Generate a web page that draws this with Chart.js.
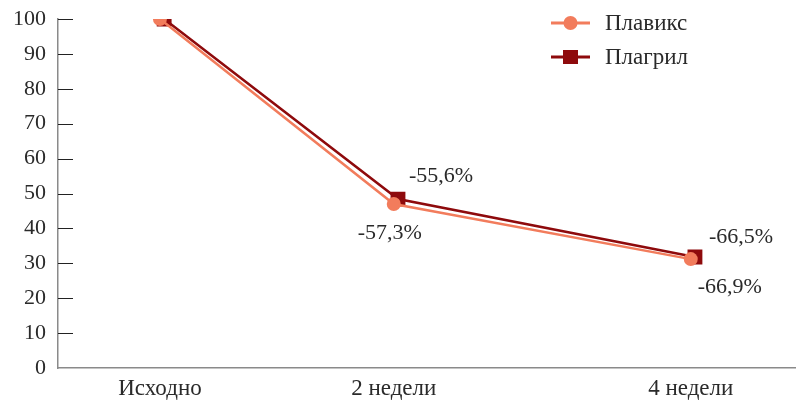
<!DOCTYPE html>
<html>
<head>
<meta charset="utf-8">
<script src="https://cdn.jsdelivr.net/npm/chart.js@4.4.1/dist/chart.umd.min.js"></script>
<style>
  html, body { margin: 0; padding: 0; background: #fff; }
  #wrap { width: 806px; height: 403px; }
</style>
</head>
<body>
<div id="wrap"><canvas id="chart"></canvas></div>
<script>
const categories = ["Исходно", "2 недели", "4 недели"];
// place of each category on the x axis (the original is not evenly spaced)
const categoryPos = [0, 1, 2.27];
const plavixValues = [100, 47, 31.2];
const plagrilValues = [100, 48.4, 31.8];
const plavixLabels = ["", "-57,3%", "-66,9%"];
const plagrilLabels = ["", "-55,6%", "-66,5%"];
const yTicks = [0, 10, 20, 30, 40, 50, 60, 70, 80, 90, 100];

const plagrilShift = 0.018;
const fontFamily = "'Liberation Serif', 'DejaVu Serif', serif";
const plavixColor = "#F27C5C";
const plagrilColor = "#8E0A0C";

// inward tick marks on the y axis
const yTickMarks = {
  id: "yTickMarks",
  afterDraw(chart) {
    const ctx = chart.ctx;
    const y = chart.scales.y;
    const left = chart.chartArea.left;
    ctx.save();
    ctx.strokeStyle = "#222";
    ctx.lineWidth = 1;
    y.ticks.forEach((t) => {
      if (t.value === 0) return;
      const py = Math.round(y.getPixelForValue(t.value)) + 0.5;
      ctx.beginPath();
      ctx.moveTo(left, py);
      ctx.lineTo(left + 15, py);
      ctx.stroke();
    });
    ctx.restore();
  },
};

// percentage labels next to points
const pointLabels = {
  id: "pointLabels",
  afterDatasetsDraw(chart, args, opts) {
    const ctx = chart.ctx;
    ctx.save();
    ctx.font = "22px " + fontFamily;
    ctx.fillStyle = "#2a2a2a";
    ctx.textAlign = "center";
    ctx.textBaseline = "middle";
    chart.data.datasets.forEach((ds, di) => {
      const meta = chart.getDatasetMeta(di);
      const offs = opts.offsets[di];
      ds.pctLabels.forEach((txt, i) => {
        if (!txt) return;
        const el = meta.data[i];
        ctx.fillText(txt, el.x + offs[i][0], el.y + offs[i][1]);
      });
    });
    ctx.restore();
  },
};

// legend with line + marker
const lineLegend = {
  id: "lineLegend",
  afterDraw(chart) {
    const ctx = chart.ctx;
    ctx.save();
    ctx.font = "23px " + fontFamily;
    ctx.textBaseline = "middle";
    chart.data.datasets.forEach((ds, i) => {
      const y = 23 + i * 34;
      const x0 = 551;
      ctx.strokeStyle = ds.borderColor;
      ctx.lineWidth = 3;
      ctx.beginPath();
      ctx.moveTo(x0, y);
      ctx.lineTo(x0 + 39, y);
      ctx.stroke();
      ctx.fillStyle = ds.backgroundColor;
      if (ds.pointStyle === "rect") {
        ctx.fillRect(x0 + 12, y - 7, 15, 14);
      } else {
        ctx.beginPath();
        ctx.arc(x0 + 19.5, y, 7, 0, Math.PI * 2);
        ctx.fill();
      }
      ctx.fillStyle = "#2a2a2a";
      ctx.fillText(ds.label, 605, y + 1);
    });
    ctx.restore();
  },
};

new Chart(document.getElementById("chart"), {
  type: "line",
  data: {
    datasets: [
      {
        label: "Плавикс",
        data: plavixValues.map((v, i) => ({ x: categoryPos[i], y: v })),
        pctLabels: plavixLabels,
        borderColor: plavixColor,
        backgroundColor: plavixColor,
        borderWidth: 2.5,
        pointStyle: "circle",
        pointRadius: 7,
        pointBorderWidth: 0,
        order: 0,
      },
      {
        label: "Плагрил",
        data: plagrilValues.map((v, i) => ({ x: categoryPos[i] + plagrilShift, y: v })),
        pctLabels: plagrilLabels,
        borderColor: plagrilColor,
        backgroundColor: plagrilColor,
        borderWidth: 2.5,
        pointStyle: "rect",
        pointRadius: 10.5,
        pointBorderWidth: 0,
        order: 1,
      },
    ],
  },
  options: {
    responsive: true,
    maintainAspectRatio: false,
    animation: false,
    layout: { padding: { top: 0, right: 1, bottom: 0, left: 1 } },
    scales: {
      x: {
        type: "linear",
        min: -0.436,
        max: 2.718,
        grid: { display: false, drawTicks: false },
        border: { display: true, color: "#8a8a8a", width: 1.5 },
        afterBuildTicks: (scale) => {
          scale.ticks = categoryPos.map((p) => ({ value: p }));
        },
        afterFit: (scale) => {
          scale.height = 35;
          scale.paddingLeft = 0;
          scale.paddingRight = 0;
        },
        ticks: {
          autoSkip: false,
          maxRotation: 0,
          padding: 7,
          color: "#2a2a2a",
          font: { family: fontFamily, size: 23 },
          callback: (value) => categories[categoryPos.indexOf(value)],
        },
      },
      y: {
        min: 0,
        max: 100,
        grid: { display: false, drawTicks: false },
        border: { display: true, color: "#8a8a8a", width: 1.5 },
        afterBuildTicks: (scale) => {
          scale.ticks = yTicks.map((v) => ({ value: v }));
        },
        afterFit: (scale) => {
          scale.paddingTop = 19;
          scale.paddingBottom = 0;
        },
        ticks: {
          padding: 12,
          color: "#2a2a2a",
          font: { family: fontFamily, size: 22 },
        },
      },
    },
    plugins: {
      legend: { display: false },
      tooltip: { enabled: false },
      pointLabels: {
        offsets: [
          [[0, 0], [-4, 29], [39, 28]],
          [[0, 0], [43, -23], [46, -20]],
        ],
      },
    },
  },
  plugins: [yTickMarks, pointLabels, lineLegend],
});
</script>
</body>
</html>
